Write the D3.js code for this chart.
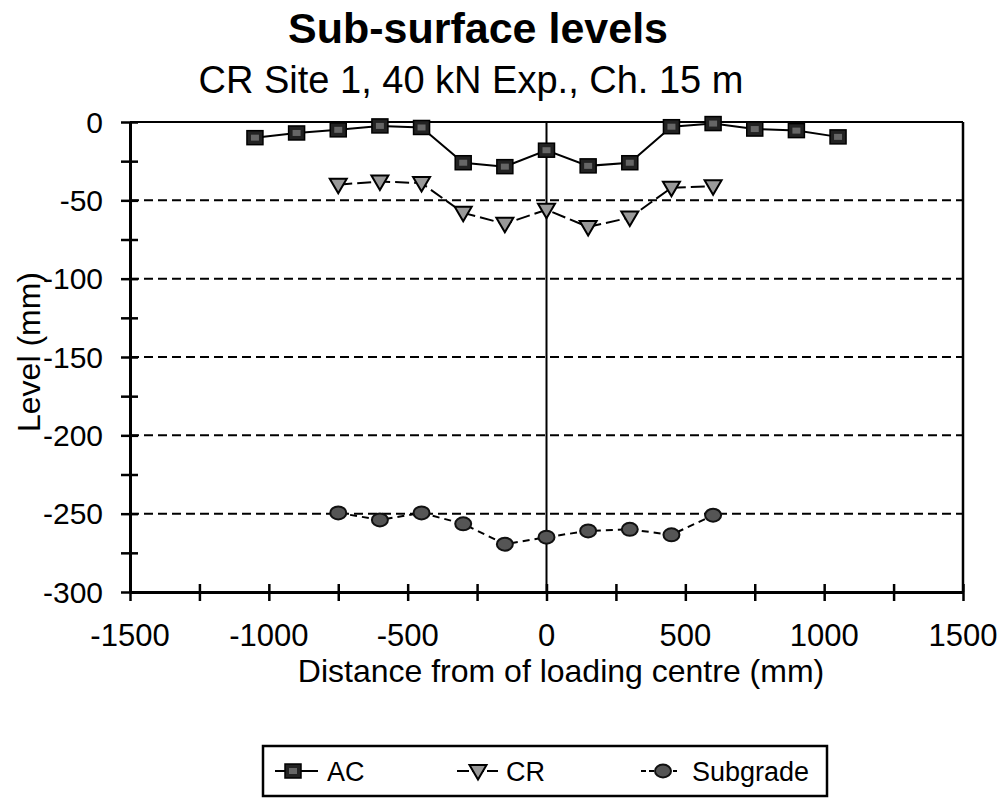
<!DOCTYPE html>
<html>
<head>
<meta charset="utf-8">
<script src="https://cdn.jsdelivr.net/npm/d3@7"></script>
<style>
  body { margin: 0; background: #fff; }
  svg { display: block; font-family: "Liberation Sans", Arial, sans-serif; }
</style>
</head>
<body>
<svg width="1002" height="799"></svg>
<script>
// Data
const distAC = [-1050, -900, -750, -600, -450, -300, -150, 0, 150, 300, 450, 600, 750, 900, 1050];
const levelAC = [-10, -7, -5, -2.5, -3.5, -26, -28.5, -18, -28, -26, -3, -1, -4.5, -5.5, -9.5];
const distCR = [-750, -600, -450, -300, -150, 0, 150, 300, 450, 600];
const levelCR = [-40, -38, -39, -58, -65, -56, -67, -61, -42, -41];
const distSub = [-750, -600, -450, -300, -150, 0, 150, 300, 450, 600];
const levelSub = [-249.5, -254, -249.5, -256.5, -269.5, -265, -261, -260, -263.5, -251];
const xTickLabels = [-1500, -1000, -500, 0, 500, 1000, 1500];
const yTickLabels = [0, -50, -100, -150, -200, -250, -300];
const gridLevels = [-50, -100, -150, -200, -250];

const svg = d3.select("svg");
svg.append("rect").attr("width", 1002).attr("height", 799).attr("fill", "#fff");

const plotLeft = 130, plotRight = 963, plotTop = 122, plotBottom = 592;
const x = d3.scaleLinear().domain([-1500, 1500]).range([plotLeft, plotRight]);
const y = d3.scaleLinear().domain([-300, 0]).range([plotBottom, plotTop]);

// Titles
svg.append("text").attr("x", 478).attr("y", 43).attr("text-anchor", "middle")
  .attr("font-size", 43).attr("font-weight", "bold").text("Sub-surface levels");
svg.append("text").attr("x", 471).attr("y", 93).attr("text-anchor", "middle")
  .attr("font-size", 38).text("CR Site 1, 40 kN Exp., Ch. 15 m");

// Dashed gridlines
svg.append("g").selectAll("line").data(gridLevels).join("line")
  .attr("x1", plotLeft).attr("x2", plotRight)
  .attr("y1", d => y(d)).attr("y2", d => y(d))
  .attr("stroke", "#000").attr("stroke-width", 2).attr("stroke-dasharray", "9,5");

// Frame: top and right
svg.append("line").attr("x1", plotLeft).attr("x2", plotRight).attr("y1", plotTop).attr("y2", plotTop)
  .attr("stroke", "#000").attr("stroke-width", 2);
svg.append("line").attr("x1", plotRight).attr("x2", plotRight).attr("y1", plotTop).attr("y2", plotBottom)
  .attr("stroke", "#000").attr("stroke-width", 2.5);
// vertical line at 0
svg.append("line").attr("x1", x(0)).attr("x2", x(0)).attr("y1", plotTop).attr("y2", plotBottom)
  .attr("stroke", "#000").attr("stroke-width", 2);

// Axes with ticks crossing the axis line
const xAxis = d3.axisBottom(x).tickValues(d3.range(-1500, 1501, 250))
  .tickSize(0).tickFormat("");
const gx = svg.append("g").attr("transform", `translate(0,${plotBottom})`).call(xAxis);
gx.select(".domain").attr("stroke-width", 3);
gx.selectAll(".tick line").attr("y1", -8).attr("y2", 9).attr("stroke-width", 2.5);

const yAxis = d3.axisLeft(y).tickValues(d3.range(-300, 1, 25))
  .tickSize(0).tickFormat("");
const gy = svg.append("g").attr("transform", `translate(${plotLeft},0)`).call(yAxis);
gy.select(".domain").attr("stroke-width", 3);
gy.selectAll(".tick line").attr("x1", -9).attr("x2", 8).attr("stroke-width", 2.5);

// Tick labels
svg.append("g").selectAll("text").data(xTickLabels).join("text")
  .attr("x", d => x(d)).attr("y", 646).attr("text-anchor", "middle")
  .attr("font-size", 31).text(d => d);
svg.append("g").selectAll("text").data(yTickLabels).join("text")
  .attr("x", 103).attr("y", d => y(d)).attr("dy", "0.36em").attr("text-anchor", "end")
  .attr("font-size", 30).text(d => d);

// Axis titles
svg.append("text").attr("x", 561).attr("y", 682).attr("text-anchor", "middle")
  .attr("font-size", 32).text("Distance from of loading centre (mm)");
svg.append("text").attr("transform", "translate(40,352) rotate(-90)").attr("text-anchor", "middle")
  .attr("font-size", 32).text("Level (mm)");

// Series
const series = [
  { name: "AC", xs: distAC, ys: levelAC, dash: null, marker: "square" },
  { name: "CR", xs: distCR, ys: levelCR, dash: "14,5", marker: "triangle" },
  { name: "Subgrade", xs: distSub, ys: levelSub, dash: "7,5", marker: "circle" }
];

function drawMarker(g, kind, cx, cy) {
  if (kind === "square") {
    g.append("rect").attr("x", cx - 8).attr("y", cy - 7).attr("width", 16).attr("height", 14)
      .attr("fill", "#222").attr("stroke", "#000").attr("stroke-width", 1.5);
    g.append("rect").attr("x", cx - 4).attr("y", cy - 3).attr("width", 8).attr("height", 6)
      .attr("fill", "#666");
  } else if (kind === "triangle") {
    g.append("path").attr("d", `M${cx - 8.5},${cy - 6}L${cx + 8.5},${cy - 6}L${cx},${cy + 8.5}Z`)
      .attr("fill", "#999").attr("stroke", "#000").attr("stroke-width", 2);
  } else {
    g.append("ellipse").attr("cx", cx).attr("cy", cy).attr("rx", 8).attr("ry", 6.5)
      .attr("fill", "#555").attr("stroke", "#111").attr("stroke-width", 2);
  }
}

series.forEach(s => {
  const pts = s.xs.map((d, i) => [x(d), y(s.ys[i])]);
  svg.append("path").attr("d", d3.line()(pts)).attr("fill", "none")
    .attr("stroke", "#000").attr("stroke-width", 2)
    .attr("stroke-dasharray", s.dash);
  const g = svg.append("g");
  pts.forEach(p => drawMarker(g, s.marker, p[0], p[1]));
});

// Legend
svg.append("rect").attr("x", 263).attr("y", 746).attr("width", 564).attr("height", 50)
  .attr("fill", "#fff").attr("stroke", "#000").attr("stroke-width", 2.5);
const legendPos = [
  { x1: 275, x2: 318, mx: 293, tx: 327 },
  { x1: 457, x2: 498, mx: 478, tx: 506 },
  { x1: 641, x2: 677, mx: 663, tx: 692 }
];
series.forEach((s, i) => {
  const p = legendPos[i];
  svg.append("line").attr("x1", p.x1).attr("x2", p.x2).attr("y1", 771).attr("y2", 771)
    .attr("stroke", "#000").attr("stroke-width", 2)
    .attr("stroke-dasharray", i === 2 ? "5,3" : (i === 1 ? "12,3" : null));
  drawMarker(svg.append("g"), s.marker, p.mx, 771);
  svg.append("text").attr("x", p.tx).attr("y", 771).attr("dy", "0.36em")
    .attr("font-size", 27).text(s.name);
});
</script>
</body>
</html>
